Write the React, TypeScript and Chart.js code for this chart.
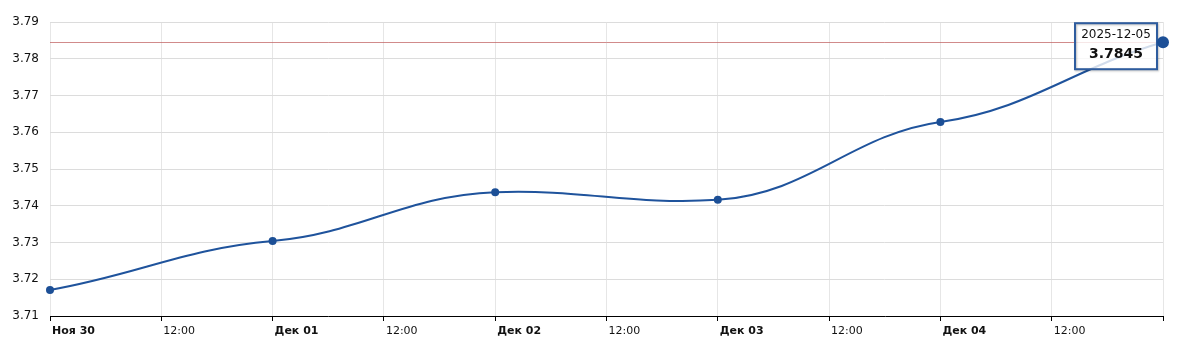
import React, { useEffect, useRef } from "react";
import { Chart, registerables } from "chart.js";

Chart.register(...registerables);

const dayLabels = ["Ноя 30", "Дек 01", "Дек 02", "Дек 03", "Дек 04", ""];
const dayOffsets = [0, 1, 2, 3, 4, 5];
const rates = [3.7171, 3.7304, 3.7437, 3.7416, 3.7628, 3.7845];
const lastDate = "2025-12-05";
const lastValue = 3.7845;
const halfDayLabel = "12:00";

const FONT = "'DejaVu Sans', Verdana, sans-serif";
const FLATTEN = 0.4;
const END_FLATTEN = 0.8;

const flattenPlugin = {
  id: "flatten",
  beforeDatasetDraw(chart: any, args: any) {
    const meta = args.meta;
    if (!meta.dataset) return;
    meta.dataset.updateControlPoints(chart.chartArea, "x");
    const n = meta.data.length;
    meta.data.forEach((p: any, i: number) => {
      const f1 = i === n - 1 ? END_FLATTEN : FLATTEN;
      const f2 = i === 0 ? END_FLATTEN : FLATTEN;
      if (p.cp1y !== undefined) p.cp1y = p.y + f1 * (p.cp1y - p.y);
      if (p.cp2y !== undefined) p.cp2y = p.y + f2 * (p.cp2y - p.y);
    });
    meta.dataset._path = undefined;
  },
};

const markerPlugin = {
  id: "marker",
  beforeDatasetsDraw(chart: any) {
    const { ctx, chartArea, scales } = chart;
    const y = Math.round(scales.y.getPixelForValue(lastValue)) + 0.5;
    ctx.save();
    ctx.strokeStyle = "rgba(190,90,90,0.7)";
    ctx.lineWidth = 1;
    ctx.beginPath();
    ctx.moveTo(chartArea.left, y);
    ctx.lineTo(chartArea.right, y);
    ctx.stroke();
    ctx.restore();
  },
  afterDatasetsDraw(chart: any) {
    const { ctx, scales } = chart;
    const y = scales.y.getPixelForValue(lastValue);
    const x = scales.x.getPixelForValue(dayOffsets[dayOffsets.length - 1]);
    ctx.save();
    const bx = x - 88, by = y - 19, bw = 82, bh = 46;
    ctx.fillStyle = "rgba(255,255,255,0.8)";
    ctx.fillRect(bx, by, bw, bh);
    ctx.shadowColor = "rgba(0,0,0,0.25)";
    ctx.shadowBlur = 2;
    ctx.shadowOffsetX = 1;
    ctx.shadowOffsetY = 1;
    ctx.strokeStyle = "#2e5c9e";
    ctx.lineWidth = 2;
    ctx.strokeRect(bx, by, bw, bh);
    ctx.shadowColor = "transparent";
    ctx.fillStyle = "#111";
    ctx.textAlign = "center";
    ctx.textBaseline = "middle";
    ctx.font = `12px ${FONT}`;
    ctx.fillText(lastDate, bx + bw / 2, by + 12);
    ctx.font = `bold 14px ${FONT}`;
    ctx.fillText(lastValue.toFixed(4), bx + bw / 2, by + 31);
    ctx.beginPath();
    ctx.arc(x, y, 6, 0, Math.PI * 2);
    ctx.fillStyle = "#1c4f96";
    ctx.fill();
    ctx.restore();
  },
};

export default function App() {
  const ref = useRef<HTMLCanvasElement>(null);
  useEffect(() => {
    const chart = new Chart(ref.current!, {
      type: "line",
      data: {
        datasets: [
          {
            data: dayOffsets.map((d, i) => ({ x: d, y: rates[i] })),
            borderColor: "#1f539c",
            backgroundColor: "#1c4f96",
            borderWidth: 2,
            tension: 0.4,
            clip: false,
            pointRadius: dayOffsets.map((_, i) => (i === dayOffsets.length - 1 ? 0 : 4)),
            pointBorderWidth: 0,
          },
        ],
      },
      plugins: [flattenPlugin, markerPlugin],
      options: {
        animation: false,
        responsive: false,
        maintainAspectRatio: false,
        layout: { padding: { left: 0, right: 24, top: 22, bottom: 0 } },
        plugins: { legend: { display: false }, tooltip: { enabled: false } },
        scales: {
          x: {
            type: "linear",
            min: 0,
            max: 5,
            afterFit(scale: any) {
              scale.height = 30;
            },
            afterBuildTicks(scale: any) {
              const t = [];
              for (let i = 0; i <= 10; i++) t.push({ value: i / 2 });
              scale.ticks = t;
            },
            border: { color: "#000", width: 1 },
            grid: {
              color: "#e6e6e6",
              tickColor: "#000",
              tickLength: 5,
              drawTicks: true,
            },
            ticks: {
              align: "start",
              labelOffset: 2,
              maxRotation: 0,
              autoSkip: false,
              padding: 4,
              color: "#111",
              font: (c: any) => ({
                family: FONT,
                size: 11,
                weight: c.tick && Number.isInteger(c.tick.value) ? "bold" : "normal",
              }),
              callback: (v: any) => {
                const n = Number(v);
                if (Number.isInteger(n)) return dayLabels[n];
                return halfDayLabel;
              },
            },
          },
          y: {
            min: 3.71,
            max: 3.79,
            afterFit(scale: any) {
              scale.width = 50;
            },
            border: { display: false },
            grid: { color: "#dcdcdc", drawTicks: false },
            ticks: {
              stepSize: 0.01,
              padding: 11,
              color: "#111",
              font: { family: FONT, size: 12 },
              callback: (v: any) => Number(v).toFixed(2),
            },
          },
        },
      },
    } as any);
    return () => chart.destroy();
  }, []);
  return (
    <div style={{ position: "fixed", left: 0, top: 0, width: 1187, height: 346, background: "#fff" }}>
      <canvas ref={ref} width={1187} height={346} />
    </div>
  );
}
